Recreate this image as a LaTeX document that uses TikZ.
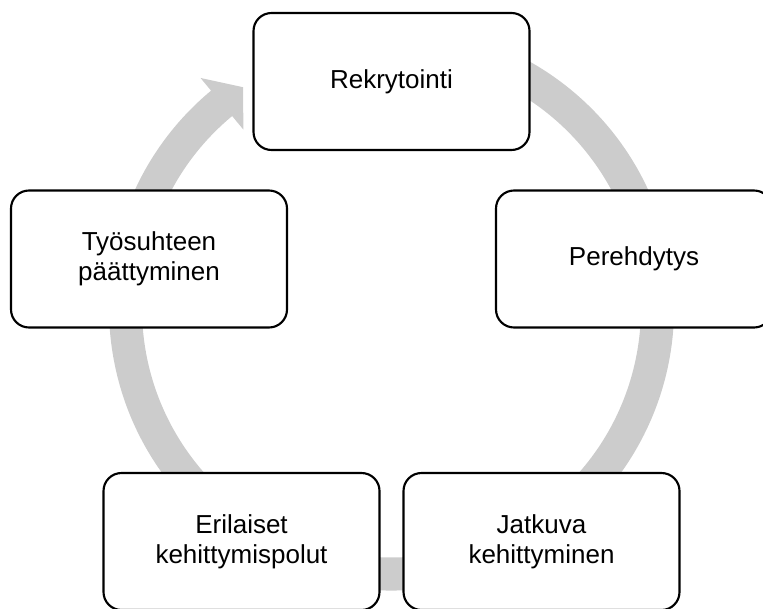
\documentclass[tikz,border=0pt]{standalone}
\usepackage{fontspec}
\setmainfont{Liberation Sans}
\usetikzlibrary{calc}

\tikzset{
  stagebox/.style={draw=black, line width=1.6pt, fill=white,
    rounded corners=13.5pt, minimum width=207pt, minimum height=102.75pt,
    align=center, inner sep=0pt,
    font=\fontsize{19.5}{22.5}\selectfont},
  ringband/.style={fill=black!20, draw=none}
}

\begin{document}
\begin{tikzpicture}[x=0.75pt, y=0.75pt]
  \useasboundingbox (0,0) rectangle (763,608);
  \clip (0,0) rectangle (763,608);

  % circular arrow running clockwise behind the stages
  \coordinate (c) at (391.5,300);
  \begin{scope}[shift={(c)}]
    \path[ringband]
      (100:282.5) arc[start angle=100, end angle=-230.3, radius=282.5]
      -- (-230.3:299) -- (-236.1:266) -- (-230.3:232)
      -- (-230.3:249.5) arc[start angle=-230.3, end angle=100, radius=249.5]
      -- cycle;
  \end{scope}

  % the five stages
  \node[stagebox] (rek)  at (391.5,526.5) {Rekrytointi};
  \node[stagebox] (pere) at (634,349)     {Perehdytys};
  \node[stagebox] (jatk) at (541.5,66.5)  {Jatkuva\\kehittyminen};
  \node[stagebox] (eril) at (241.5,66.5)  {Erilaiset\\kehittymispolut};
  \node[stagebox] (tyo)  at (149,349)     {Työsuhteen\\päättyminen};
\end{tikzpicture}
\end{document}
